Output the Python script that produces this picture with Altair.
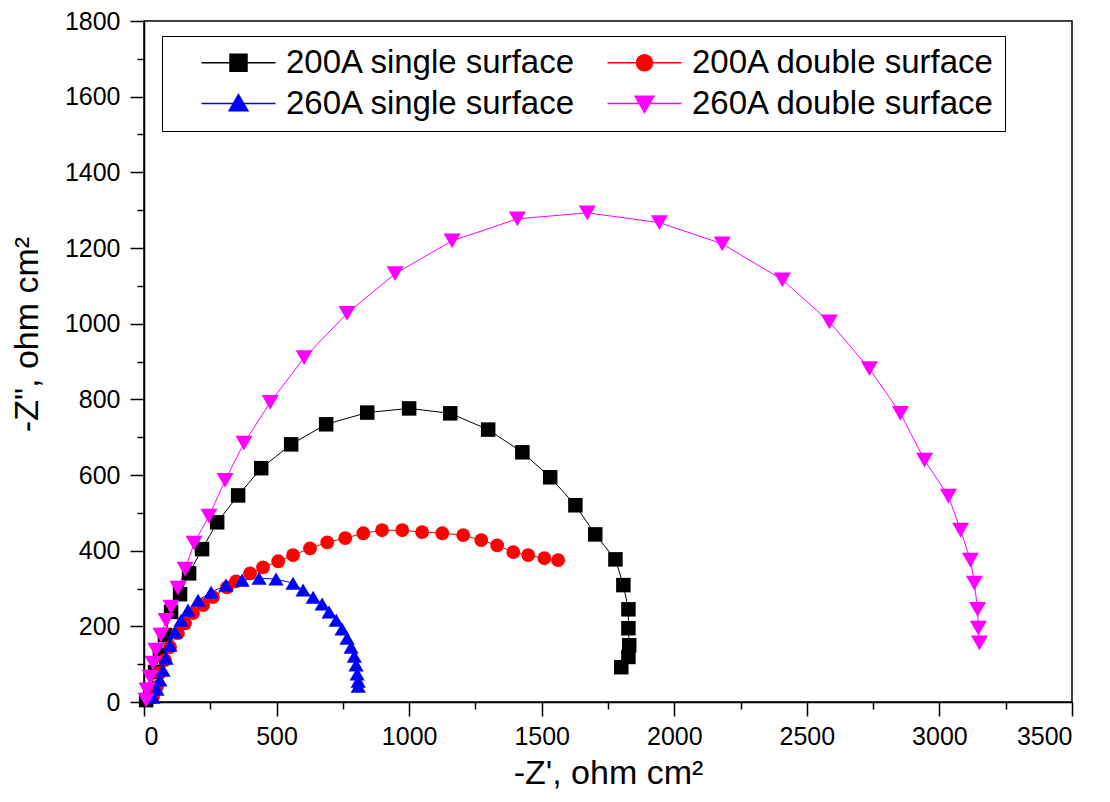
import altair as alt
import pandas as pd

SERIES = ["200A single surface", "200A double surface", "260A single surface", "260A double surface"]
COLORS = ["#000000", "#FF0000", "#0000FF", "#FF00FF"]
SHAPES = ["square", "circle", "triangle-up", "triangle-down"]
SIZES = [210, 190, 230, 290]

# 200A single surface
bx = [8, 23, 42, 60, 79, 102, 136, 170, 219, 276, 355, 442, 555, 687, 842, 1000, 1155, 1298, 1427,
      1532, 1627, 1702, 1778, 1808, 1827, 1827, 1830, 1827, 1800]
by = [5, 32, 79, 124, 177, 238, 285, 340, 404, 475, 546, 618, 681, 734, 765, 776, 763, 720, 660,
      594, 520, 443, 377, 309, 245, 195, 150, 119, 92]
# 200A double surface
rx = [34, 49, 60, 79, 98, 128, 155, 185, 223, 260, 313, 347, 400, 449, 506, 562, 626, 691, 759, 827,
      898, 974, 1049, 1125, 1204, 1272, 1332, 1393, 1449, 1510, 1562]
ry = [13, 40, 77, 111, 145, 182, 208, 235, 256, 277, 303, 319, 340, 356, 372, 388, 406, 422, 433, 446,
      454, 454, 449, 446, 441, 428, 414, 396, 388, 380, 375]
# 260A single surface
ux = [34, 49, 60, 72, 83, 98, 117, 140, 166, 204, 253, 309, 370, 434, 498, 562, 600, 638, 672, 698,
      725, 747, 766, 781, 793, 800, 804, 808, 808]
uy = [13, 34, 58, 84, 116, 150, 185, 216, 243, 269, 290, 309, 322, 327, 325, 314, 296, 277, 259, 238,
      216, 193, 169, 145, 121, 98, 74, 55, 42]
# 260A double surface
mx = [8, 11, 23, 34, 45, 64, 83, 102, 128, 155, 189, 245, 306, 377, 476, 604, 766, 947, 1162, 1408,
      1672, 1944, 2181, 2408, 2585, 2736, 2853, 2944, 3034, 3080, 3117, 3132, 3144, 3147, 3151]
my = [5, 32, 66, 103, 137, 177, 216, 251, 301, 351, 420, 491, 586, 684, 792, 910, 1027, 1132, 1219,
      1277, 1293, 1267, 1211, 1116, 1005, 881, 763, 639, 544, 454, 375, 314, 245, 195, 156]

rows = []
for name, xs, ys in zip(SERIES, [bx, rx, ux, mx], [by, ry, uy, my]):
    for i, (a, b) in enumerate(zip(xs, ys)):
        rows.append({"series": name, "idx": i, "x": a, "y": b})
df = pd.DataFrame(rows)

FONT = "Liberation Sans"

# legend symbols: marker with a line through it (unit = half marker width)
LEG_PATHS = [
    "M-4.35,0L4.35,0M-1,-1L1,-1L1,1L-1,1Z",
    "M-4.35,0L4.35,0M0.95,0A0.95,0.95,0,1,1,-0.95,0A0.95,0.95,0,1,1,0.95,0Z",
    "M-4.35,0L4.35,0M0,-1.05L1.1,0.85L-1.1,0.85Z",
    "M-4.35,0L4.35,0M0,1.05L1.1,-0.85L-1.1,-0.85Z",
]
# legend is filled column by column: reorder so rows read 200A | 200A, 260A | 260A
LEG_ORDER = [0, 2, 1, 3]
LEG_DOMAIN = [SERIES[i] for i in LEG_ORDER]
LEG_COLORS = [COLORS[i] for i in LEG_ORDER]
LEG_SHAPES = [LEG_PATHS[i] for i in LEG_ORDER]

xaxis = alt.Axis(
    values=list(range(0, 3501, 250)),
    labelExpr="datum.value % 500 == 0 ? format(datum.value, 'd') : ''",
    tickSize={"condition": {"test": "datum.value % 500 == 0", "value": 14}, "value": 7},
    title="-Z', ohm cm²",
    grid=False,
    labelPadding=8,
    titlePadding=7,
)
yaxis = alt.Axis(
    values=list(range(0, 1801, 100)),
    labelExpr="datum.value % 200 == 0 ? format(datum.value, 'd') : ''",
    tickSize={"condition": {"test": "datum.value % 200 == 0", "value": 14}, "value": 7},
    title='-Z", ohm cm²',
    grid=False,
    labelPadding=10,
    titlePadding=20,
    titleY=313,
)

X = alt.X("x:Q", scale=alt.Scale(domain=[0, 3500], nice=False, zero=False), axis=xaxis)
Y = alt.Y("y:Q", scale=alt.Scale(domain=[0, 1800], nice=False, zero=False), axis=yaxis)

base = alt.Chart(df)

layers = []
for name, col in zip(SERIES, COLORS):
    layers.append(
        base.transform_filter(alt.datum.series == name)
        .mark_line(strokeWidth=1, color=col)
        .encode(x=X, y=Y, order="idx:Q")
    )
for name, col, shp, sz in zip(SERIES, COLORS, SHAPES, SIZES):
    layers.append(
        base.transform_filter(alt.datum.series == name)
        .mark_point(filled=True, size=sz, opacity=1, shape=shp, color=col)
        .encode(x=X, y=Y)
    )

leg = alt.Legend(
    title=None,
    orient="none",
    legendX=18,
    legendY=15,
    columns=2,
    columnPadding=2,
    rowPadding=7,
    padding=10,
    strokeColor="black",
    fillColor="white",
    symbolSize=289,
    symbolStrokeWidth=1.5,
    symbolOffset=50,
    labelOffset=31,
    labelFontSize=33,
    labelFont=FONT,
    labelColor="black",
    labelLimit=600,
)

legend_layer = (
    base.transform_filter("false")
    .mark_point(filled=True, size=289, strokeWidth=1.5, opacity=1)
    .encode(
        color=alt.Color("series:N", scale=alt.Scale(domain=LEG_DOMAIN, range=LEG_COLORS), legend=leg),
        stroke=alt.Stroke("series:N", scale=alt.Scale(domain=LEG_DOMAIN, range=LEG_COLORS), legend=leg),
        shape=alt.Shape("series:N", scale=alt.Scale(domain=LEG_DOMAIN, range=LEG_SHAPES), legend=leg),
    )
)
layers.append(legend_layer)

chart = (
    alt.layer(*layers)
    .properties(
        width=928,
        height=681,
        background="white",
        autosize=alt.AutoSizeParams(type="none"),
        padding={"left": 136, "top": 13, "right": 30, "bottom": 90},
    )
    .configure_view(stroke="black", strokeWidth=1.5)
    .configure_axis(
        domainColor="black",
        domainWidth=1.5,
        tickColor="black",
        tickWidth=1.5,
        labelFont=FONT,
        labelFontSize=25,
        labelColor="black",
        titleFont=FONT,
        titleFontSize=34,
        titleFontWeight="normal",
        titleColor="black",
        labelOverlap=False,
    )
)

chart.save("out.html", embed_options={"renderer": "svg", "actions": False})
